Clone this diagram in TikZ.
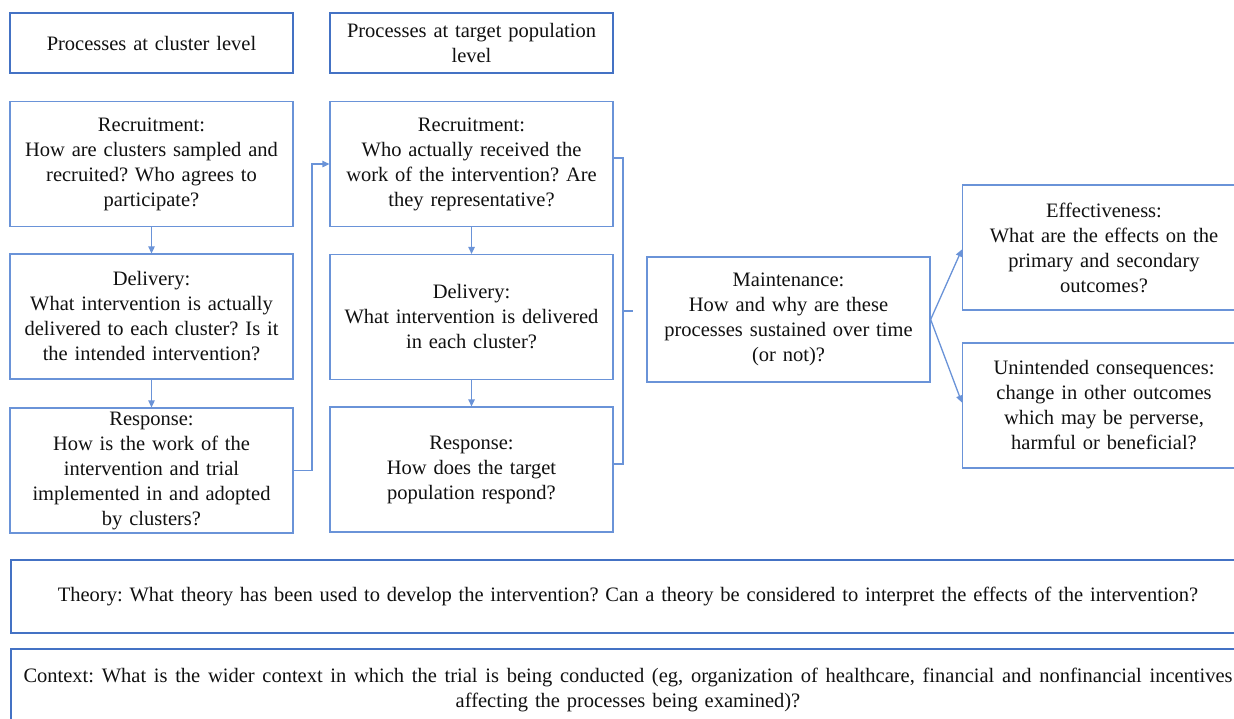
\documentclass[tikz,border=0pt]{standalone}
\usepackage{fontspec}
\setmainfont{Liberation Serif}
\usetikzlibrary{arrows.meta,calc}
\definecolor{hdrblue}{HTML}{4472C4}
\definecolor{boxblue}{HTML}{6A93D8}
\definecolor{txt}{HTML}{111111}
\begin{document}
\frenchspacing
\begin{tikzpicture}[x=1pt,y=-1pt,
  font=\fontsize{20.5}{25}\selectfont\frenchspacing, text=txt,
  procbox/.style={draw=boxblue, line width=1.3pt, align=center, inner sep=0pt,
    text width=278pt, minimum width=283pt, minimum height=125pt},
  hdrbox/.style={draw=hdrblue, line width=2pt, align=center, inner sep=0pt,
    text width=276pt, minimum width=283pt, minimum height=60pt},
  widebox/.style={draw=hdrblue, line width=1.8pt, align=center, inner sep=0pt,
    text width=1228pt, minimum width=1234pt},
  link/.style={draw=boxblue, line width=1.3pt},
  arr/.style={link, -{Triangle[length=7pt,width=6.5pt]}}]
\useasboundingbox (0,0) rectangle (1234,718);
\clip (0,0) rectangle (1234,718);
\fill[white] (0,0) rectangle (1234,718);

% headers
\node[hdrbox] (h1) at (151.5,43) {Processes at cluster level};
\node[hdrbox] (h2) at (471.5,43) {Processes at target population\\level};

% cluster level
\node[procbox] (r1) at (151.5,164) {Recruitment:\\How are clusters sampled and\\recruited? Who agrees to\\participate?};
\node[procbox] (d1) at (151.5,316.5) {Delivery:\\What intervention is actually\\delivered to each cluster? Is it\\the intended intervention?};
\node[procbox] (s1) at (151.5,470.5) {Response:\\How is the work of the\\intervention and trial\\implemented in and adopted\\by clusters?};

% target population level
\node[procbox] (r2) at (471.5,164) {Recruitment:\\Who actually received the\\work of the intervention? Are\\they representative?};
\node[procbox] (d2) at (471.5,317) {Delivery:\\What intervention is delivered\\in each cluster?};
\node[procbox] (s2) at (471.5,469.5) {Response:\\How does the target\\population respond?};

% maintenance and outcomes
\node[procbox] (m) at (788.5,319.5) {Maintenance:\\How and why are these\\processes sustained over time\\(or not)?};
\node[procbox] (e) at (1104,247.5) {Effectiveness:\\What are the effects on the\\primary and secondary\\outcomes?};
\node[procbox] (u) at (1104,405.5) {Unintended consequences:\\change in other outcomes\\which may be perverse,\\harmful or beneficial?};

% theory and context
\node[widebox, minimum height=73pt] (t) at (628,596.5) {Theory: What theory has been used to develop the intervention? Can a theory be considered to interpret the effects of the intervention?};
\node[widebox, minimum height=82pt] (c) at (628,690) {\hbox to 1209pt{\spaceskip=0.25em plus 0.5em minus 0.05em Context: What is the wider context in which the trial is being conducted (eg, organization of healthcare, financial and nonfinancial incentives}\\affecting the processes being examined)?};

% vertical arrows
\draw[arr] (r1) -- (d1);
\draw[arr] (d1) -- (s1);
\draw[arr] (r2) -- (d2);
\draw[arr] (d2) -- (s2);

% cluster response to target recruitment
\coordinate (jx) at (312,0);
\draw[arr] (s1.east) -- (s1.east -| jx) -- (r2.west -| jx) -- (r2.west);

% bracket
\coordinate (bt) at ($(r2.east)+(0,-6)$);
\coordinate (bb) at ($(s2.east)+(0,-5.5)$);
\coordinate (bx) at (623,0);
\coordinate (bm) at (623,311);
\coordinate (btip) at (633,311);
\draw[link] (bt) -- (bt -| bx) -- (bb -| bx) -- (bb);
\draw[link] (bm) -- (btip);

% maintenance to outcomes
\draw[arr] (m.east) -- ($(e.west)+(0,2)$);
\draw[arr] (m.east) -- ($(u.west)+(0,-3)$);
\end{tikzpicture}
\end{document}
